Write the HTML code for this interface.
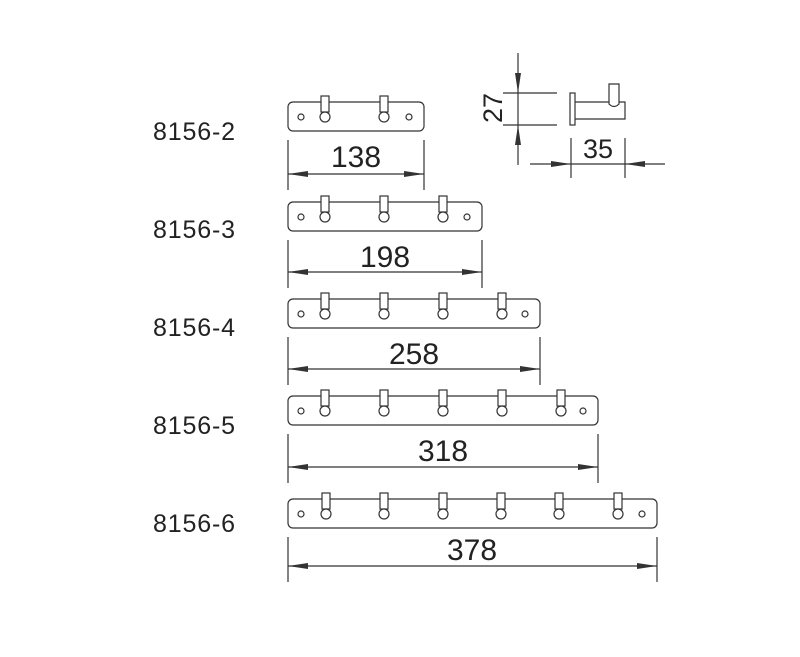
<!DOCTYPE html>
<html><head><meta charset="utf-8"><style>html,body{margin:0;padding:0;background:#fff}svg{display:block}</style></head><body>
<svg width="800" height="657" viewBox="0 0 800 657" xmlns="http://www.w3.org/2000/svg" font-family="Liberation Sans, Arial, sans-serif" fill="none" stroke="#333" stroke-width="1.2">
<defs>
<g id="hk"><rect x="-4" y="-6" width="8" height="16" fill="#fff"/><circle cx="0" cy="15" r="5" fill="#fff"/></g>
<g id="al"><polygon points="0,0 20,-3 20,3" fill="#333" stroke="none"/></g>
<g id="ar"><polygon points="0,0 -20,-3 -20,3" fill="#333" stroke="none"/></g>
</defs>
<g fill="#222" stroke="none" font-size="25">
<text x="153" y="140" textLength="82">8156-2</text>
<text x="153" y="238" textLength="82">8156-3</text>
<text x="153" y="336" textLength="82">8156-4</text>
<text x="153" y="434" textLength="82">8156-5</text>
<text x="153" y="532" textLength="82">8156-6</text>
<g text-anchor="middle" font-size="30">
<text x="356" y="167">138</text>
<text x="385" y="267">198</text>
<text x="414" y="364">258</text>
<text x="443" y="461">318</text>
<text x="472" y="560">378</text>
<text x="598" y="158" font-size="27">35</text>
<text transform="translate(502,108) rotate(-90)" font-size="27">27</text>
</g></g>
<!-- row1 -->
<rect x="288" y="102" width="136" height="29" rx="5"/>
<use href="#hk" x="325" y="102"/><use href="#hk" x="384" y="102"/>
<circle cx="301" cy="117" r="3"/><circle cx="409" cy="117" r="3"/>
<line x1="288" y1="140" x2="288" y2="190"/><line x1="424" y1="140" x2="424" y2="190"/><line x1="288" y1="174" x2="424" y2="174"/>
<use href="#al" x="288" y="174"/><use href="#ar" x="424" y="174"/>
<!-- row2 -->
<rect x="288" y="202" width="194" height="29" rx="5"/>
<use href="#hk" x="325" y="202"/><use href="#hk" x="384" y="202"/><use href="#hk" x="443" y="202"/>
<circle cx="301" cy="217" r="3"/><circle cx="467" cy="217" r="3"/>
<line x1="288" y1="240" x2="288" y2="288"/><line x1="482" y1="240" x2="482" y2="288"/><line x1="288" y1="272" x2="482" y2="272"/>
<use href="#al" x="288" y="272"/><use href="#ar" x="482" y="272"/>
<!-- row3 -->
<rect x="288" y="299" width="252" height="29" rx="5"/>
<use href="#hk" x="325" y="299"/><use href="#hk" x="384" y="299"/><use href="#hk" x="443" y="299"/><use href="#hk" x="502" y="299"/>
<circle cx="301" cy="314" r="3"/><circle cx="525" cy="314" r="3"/>
<line x1="288" y1="337" x2="288" y2="385"/><line x1="540" y1="337" x2="540" y2="385"/><line x1="288" y1="369" x2="540" y2="369"/>
<use href="#al" x="288" y="369"/><use href="#ar" x="540" y="369"/>
<!-- row4 -->
<rect x="288" y="396" width="310" height="29" rx="5"/>
<use href="#hk" x="325" y="396"/><use href="#hk" x="384" y="396"/><use href="#hk" x="443" y="396"/><use href="#hk" x="502" y="396"/><use href="#hk" x="561" y="396"/>
<circle cx="301" cy="411" r="3"/><circle cx="583" cy="411" r="3"/>
<line x1="288" y1="434" x2="288" y2="483"/><line x1="598" y1="434" x2="598" y2="483"/><line x1="288" y1="467" x2="598" y2="467"/>
<use href="#al" x="288" y="467"/><use href="#ar" x="598" y="467"/>
<!-- row5 -->
<rect x="288" y="499" width="369" height="29" rx="5"/>
<use href="#hk" x="326" y="499"/><use href="#hk" x="384" y="499"/><use href="#hk" x="443" y="499"/><use href="#hk" x="501" y="499"/><use href="#hk" x="559" y="499"/><use href="#hk" x="618" y="499"/>
<circle cx="301" cy="514" r="3"/><circle cx="642" cy="514" r="3"/>
<line x1="288" y1="537" x2="288" y2="582"/><line x1="657" y1="537" x2="657" y2="582"/><line x1="288" y1="566" x2="657" y2="566"/>
<use href="#al" x="288" y="566"/><use href="#ar" x="657" y="566"/>
<!-- side view -->
<rect x="570" y="93" width="5" height="32"/>
<path d="M575 102 H625 V119 H575"/>
<path d="M609 104 V84 H619 V104 Q614 109 609 104 Z" fill="#fff"/>
<line x1="503" y1="93" x2="557" y2="93"/><line x1="503" y1="125" x2="557" y2="125"/>
<line x1="518" y1="53" x2="518" y2="165"/>
<polygon points="518,93 515,73 521,73" fill="#333" stroke="none"/>
<polygon points="518,125 515,145 521,145" fill="#333" stroke="none"/>
<line x1="571" y1="138" x2="571" y2="178"/><line x1="625" y1="138" x2="625" y2="178"/>
<line x1="530" y1="164" x2="665" y2="164"/>
<use href="#ar" x="571" y="164"/><use href="#al" x="625" y="164"/>
</svg>
</body></html>
